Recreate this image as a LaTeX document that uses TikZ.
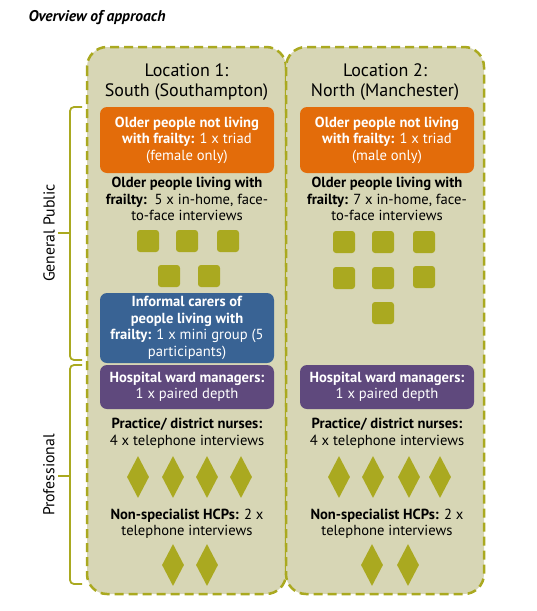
\documentclass[tikz,border=0pt]{standalone}
\usepackage{fontspec}
\setmainfont{PT Sans}
\usetikzlibrary{shapes.geometric}

\definecolor{panelfill}{RGB}{215,214,181}
\definecolor{olivegrn}{RGB}{170,169,32}
\definecolor{frailorange}{RGB}{227,108,10}
\definecolor{carerblue}{RGB}{57,99,148}
\definecolor{wardpurple}{RGB}{95,73,125}

\newcommand{\bodyfont}{\fontsize{14.6}{16.5}\selectfont}
\newcommand{\headfont}{\fontsize{18}{20}\selectfont}

\begin{document}
\begin{tikzpicture}[x=1pt,y=-1pt,
    panel/.style={draw=olivegrn, fill=panelfill, line width=2.5pt, dash pattern=on 9pt off 5pt, rounded corners=20pt},
    grpbox/.style={rounded corners=7pt, text=white, align=center, minimum width=174pt, inner sep=0pt, font=\bodyfont},
    headtext/.style={align=center, font=\headfont},
    bodytext/.style={align=center, font=\bodyfont},
    sq/.style={fill=olivegrn, rounded corners=3pt, minimum size=22pt, inner sep=0pt},
    dmd/.style={diamond, fill=olivegrn, minimum width=22pt, minimum height=42pt, inner sep=0pt},
    brace/.style={draw=olivegrn, line width=1.8pt, rounded corners=4pt}
]
    \useasboundingbox (0,0) rectangle (536,611);

    % title
    \node[anchor=west, font=\fontsize{15.5}{18}\selectfont] (title) at (25,18) {\textbf{\textit{Overview of approach}}};

    % panels
    \draw[panel] (87,47) rectangle (286,594);
    \draw[panel] (286,47) rectangle (484,594);

    % braces on the left
    \draw[brace] (82,107) -- (70,107) -- (70,233) -- (70,360) -- (82,360);
    \draw[brace] (70,233) -- (58,233);
    \draw[brace] (82,365) -- (70,365) -- (70,476) -- (70,584) -- (82,584);
    \draw[brace] (70,476) -- (58,476);
    \node[rotate=90, font=\fontsize{15.8}{18}\selectfont] (genpub) at (49,233) {General Public};
    \node[rotate=90, font=\fontsize{15.8}{18}\selectfont] (prof) at (49,475) {Professional};

    % Location 1
    \node[headtext] (loc1) at (186.5,82) {Location 1:\\South (Southampton)};
    \node[grpbox, fill=frailorange, minimum height=66pt] (opn1) at (187,140)
        {\textbf{Older people not living}\\\textbf{with frailty:} 1 x triad\\(female only)};
    \node[bodytext] (opl1) at (187,199)
        {\textbf{Older people living with}\\\textbf{frailty:}\ \ 5 x in-home, face-\\to-face interviews};
    \foreach \x [count=\i] in {148,187,228}
        \node[sq] (sqa\i) at (\x,241) {};
    \foreach \x [count=\i] in {169,209}
        \node[sq] (sqb\i) at (\x,276) {};
    \node[grpbox, fill=carerblue, minimum height=70pt] (car1) at (187,328)
        {\textbf{Informal carers of}\\\textbf{people living with}\\\textbf{frailty:} 1 x mini group (5\\participants)};
    \node[grpbox, fill=wardpurple, minimum height=44pt] (hwm1) at (187,387)
        {\textbf{Hospital ward managers:}\\1 x paired depth};
    \node[bodytext] (pdn1) at (187,433.5)
        {\textbf{Practice/ district nurses:}\\4 x telephone interviews};
    \foreach \x [count=\i] in {138,173,207,241}
        \node[dmd] (dma\i) at (\x,477) {};
    \node[bodytext] (nsh1) at (187,523.5)
        {\textbf{Non-specialist HCPs:} 2 x\\telephone interviews};
    \foreach \x [count=\i] in {173,207}
        \node[dmd] (dmb\i) at (\x,565) {};

    % Location 2
    \node[headtext] (loc2) at (385,82) {Location 2:\\North (Manchester)};
    \node[grpbox, fill=frailorange, minimum height=66pt] (opn2) at (387,140)
        {\textbf{Older people not living}\\\textbf{with frailty:} 1 x triad\\(male only)};
    \node[bodytext] (opl2) at (387,199)
        {\textbf{Older people living with}\\\textbf{frailty:} 7 x in-home, face-\\to-face interviews};
    \foreach \x [count=\i] in {344,383,424}
        \node[sq] (sqc\i) at (\x,242) {};
    \foreach \x/\y [count=\i] in {344/278,383/278,424/277}
        \node[sq] (sqd\i) at (\x,\y) {};
    \node[sq] (sqe1) at (383,313) {};
    \node[grpbox, fill=wardpurple, minimum height=44pt] (hwm2) at (387,387)
        {\textbf{Hospital ward managers:}\\1 x paired depth};
    \node[bodytext] (pdn2) at (387,433.5)
        {\textbf{Practice/ district nurses:}\\4 x telephone interviews};
    \foreach \x [count=\i] in {339,373,409,440}
        \node[dmd] (dmc\i) at (\x,477) {};
    \node[bodytext] (nsh2) at (387,523.5)
        {\textbf{Non-specialist HCPs:} 2 x\\telephone interviews};
    \foreach \x [count=\i] in {372,408}
        \node[dmd] (dmd\i) at (\x,565) {};
\end{tikzpicture}
\end{document}
